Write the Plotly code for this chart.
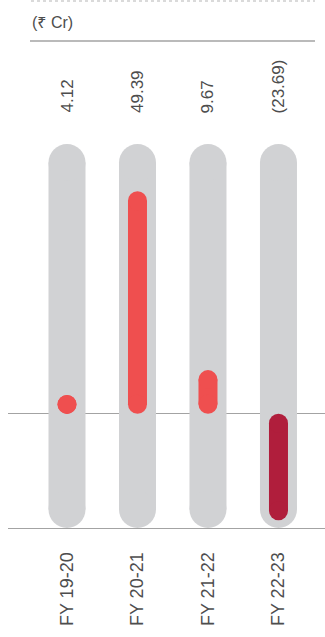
import plotly.graph_objects as go

# Net profit / (loss) by financial year, in ₹ Crore
years = ["FY 19-20", "FY 20-21", "FY 21-22", "FY 22-23"]
values = [4.12, 49.39, 9.67, -23.69]
value_labels = ["4.12", "49.39", "9.67", "(23.69)"]

# Figure geometry
W, H = 325, 637
M_L, M_R, M_T, M_B = 8, 0, 144, 109
PLOT_H = H - M_T - M_B
Y_MIN, Y_MAX = -25.4, 59.9
X_MIN, X_MAX = -0.837, 3.66

px_per_unit = PLOT_H / (Y_MAX - Y_MIN)

TRACK_W = 37
BAR_W = 19
TRACK_COLOR = "#d1d2d4"
POS_COLOR = "#ef4f4f"
NEG_COLOR = "#b01e3c"
TEXT_COLOR = "#4d4d4d"
RULE_COLOR = "#a3a3a3"
FONT = "Liberation Sans, Arial, Noto Sans, sans-serif"


def capsule_points(lo, hi, width_px):
    """End points of a round-capped segment spanning lo..hi (data units)."""
    r = (width_px / 2) / px_per_unit
    if hi - lo <= 2 * r:
        mid = (lo + hi) / 2
        return mid, mid
    return lo + r, hi - r


fig = go.Figure()

# grey background tracks
tx, ty = [], []
for i in range(len(years)):
    a, b = capsule_points(Y_MIN, Y_MAX, TRACK_W)
    tx += [i, i, None]
    ty += [a, b, None]
fig.add_trace(go.Scatter(
    x=tx, y=ty, mode="lines+markers",
    line=dict(color=TRACK_COLOR, width=TRACK_W),
    marker=dict(color=TRACK_COLOR, size=TRACK_W, line=dict(width=0)),
    cliponaxis=False, hoverinfo="skip", showlegend=False,
))

# value bars
for i, v in enumerate(values):
    lo, hi = (0, v) if v >= 0 else (v, 0)
    a, b = capsule_points(lo, hi, BAR_W)
    color = POS_COLOR if v >= 0 else NEG_COLOR
    fig.add_trace(go.Scatter(
        x=[i, i], y=[a, b], mode="lines+markers",
        line=dict(color=color, width=BAR_W),
        marker=dict(color=color, size=BAR_W, line=dict(width=0)),
        cliponaxis=False, hoverinfo="skip", showlegend=False,
    ))


def py(p):
    """Pixel row -> paper y."""
    return (H - M_B - p) / PLOT_H


def pxx(p):
    """Pixel column -> paper x."""
    return (p - M_L) / (W - M_L - M_R)


annotations = []
for i, lab in enumerate(value_labels):
    annotations.append(dict(
        x=i, xref="x", y=py(115), yref="paper",
        text=lab, showarrow=False, textangle=-90,
        xanchor="center", yanchor="bottom",
        font=dict(family=FONT, size=17, color=TEXT_COLOR),
    ))
annotations.append(dict(
    x=pxx(30), xref="paper", y=py(22), yref="paper",
    text="(₹ Cr)", showarrow=False, xanchor="left", yanchor="middle",
    font=dict(family=FONT, size=16, color=TEXT_COLOR),
))

shapes = [
    dict(type="line", xref="paper", yref="paper",
         x0=pxx(31), x1=pxx(315), y0=py(1), y1=py(1),
         line=dict(color="#b5b5b5", width=1, dash="dot")),
    dict(type="line", xref="paper", yref="paper",
         x0=pxx(30), x1=pxx(315), y0=py(41), y1=py(41),
         line=dict(color=RULE_COLOR, width=1.3)),
]

fig.update_layout(
    width=W, height=H,
    margin=dict(l=M_L, r=M_R, t=M_T, b=M_B, pad=0),
    paper_bgcolor="white", plot_bgcolor="white",
    showlegend=False,
    annotations=annotations,
    shapes=shapes,
    xaxis=dict(
        range=[X_MIN, X_MAX], tickvals=list(range(len(years))), ticktext=years,
        tickangle=-90, showgrid=False, zeroline=False,
        showline=True, linecolor=RULE_COLOR, linewidth=1.3,
        ticks="", ticklabelstandoff=16,
        tickfont=dict(family=FONT, size=18, color=TEXT_COLOR),
        fixedrange=True,
    ),
    yaxis=dict(
        range=[Y_MIN, Y_MAX], showgrid=False, showticklabels=False,
        zeroline=True, zerolinecolor=RULE_COLOR, zerolinewidth=1.3,
        showline=False, ticks="", fixedrange=True,
    ),
)

fig.write_html("out.html", config={"displayModeBar": False})
